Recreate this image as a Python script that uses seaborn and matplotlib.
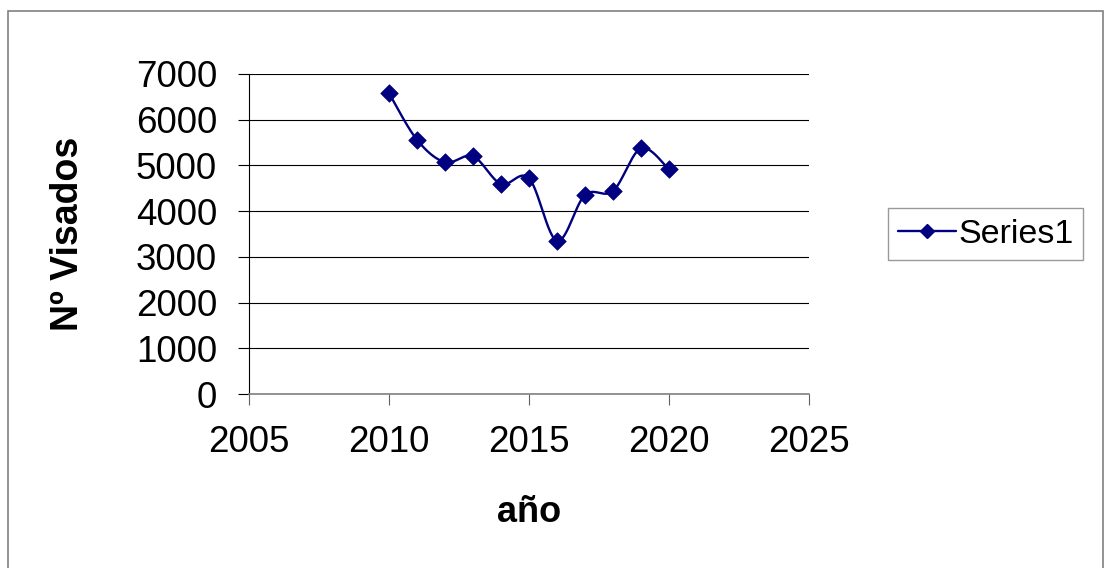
import numpy as np
import pandas as pd
import seaborn as sns
import matplotlib.pyplot as plt
from matplotlib.lines import Line2D
from matplotlib.patches import Rectangle

anios = [2010, 2011, 2012, 2013, 2014, 2015, 2016, 2017, 2018, 2019, 2020]
visados = [6580, 5560, 5070, 5200, 4595, 4720, 3350, 4355, 4440, 5375, 4915]
serie = 'Series1'

def suavizar(x, y, n=30):
    # curva suavizada tipo Excel (bezier con tangentes catmull-rom)
    x = np.asarray(x, float)
    y = np.asarray(y, float)
    xs, ys = [], []
    for i in range(len(x) - 1):
        p0 = (x[max(i - 1, 0)], y[max(i - 1, 0)])
        p1 = (x[i], y[i])
        p2 = (x[i + 1], y[i + 1])
        p3 = (x[min(i + 2, len(x) - 1)], y[min(i + 2, len(x) - 1)])
        c1 = (p1[0] + (p2[0] - p0[0]) / 6, p1[1] + (p2[1] - p0[1]) / 6)
        c2 = (p2[0] - (p3[0] - p1[0]) / 6, p2[1] - (p3[1] - p1[1]) / 6)
        t = np.linspace(0, 1, n)
        a = (1 - t) ** 3
        b = 3 * (1 - t) ** 2 * t
        c = 3 * (1 - t) * t ** 2
        d = t ** 3
        xs.extend(a * p1[0] + b * c1[0] + c * c2[0] + d * p2[0])
        ys.extend(a * p1[1] + b * c1[1] + c * c2[1] + d * p2[1])
    return xs, ys

sns.set_style('white')
plt.rcParams['font.family'] = ['Liberation Sans', 'DejaVu Sans']
plt.rcParams['text.color'] = 'black'
plt.rcParams['axes.labelcolor'] = 'black'
plt.rcParams['xtick.color'] = 'black'
plt.rcParams['ytick.color'] = 'black'

df = pd.DataFrame({'año': anios, 'Nº Visados': visados})
sx, sy = suavizar(anios, visados)
curva = pd.DataFrame({'x': sx, 'y': sy})

fig = plt.figure(figsize=(11.04, 5.68), dpi=100)
ax = fig.add_axes([249 / 1104, 1 - 394 / 568, 560 / 1104, 320 / 568])

azul = '#000080'
sns.lineplot(data=curva, x='x', y='y', sort=False, estimator=None,
             color=azul, linewidth=1.7, ax=ax)
sns.scatterplot(data=df, x='año', y='Nº Visados', marker='D', s=80,
                color=azul, edgecolor=azul, linewidth=0.5, zorder=3, ax=ax)

ax.set_xlim(2005, 2025)
ax.set_ylim(0, 7000)
ax.set_xticks([2005, 2010, 2015, 2020, 2025])
ax.set_yticks(range(0, 7001, 1000))
ax.yaxis.grid(True, color='black', linewidth=0.8)
ax.set_axisbelow(True)
for s in ['top', 'right']:
    ax.spines[s].set_visible(False)
ax.spines['left'].set_color('black')
ax.spines['bottom'].set_color('#808080')
ax.spines['left'].set_linewidth(0.8)
ax.spines['bottom'].set_linewidth(1.2)
ax.tick_params(axis='both', labelsize=26.5, direction='out', length=8,
               width=0.8, bottom=True, left=True, labelcolor='black')
ax.tick_params(axis='x', color='#606060', pad=14)
ax.tick_params(axis='y', color='black', pad=15)
ax.set_xlabel('año', fontsize=26, fontweight='bold')
ax.set_ylabel('Nº Visados', fontsize=27, fontweight='bold')
ax.xaxis.set_label_coords(0.5, (394 - 495) / 320)
ax.yaxis.set_label_coords((86 - 249) / 560, 0.5)

h = Line2D([], [], color=azul, linewidth=1.7, marker='D', markersize=7.5)
leg = fig.legend([h], [serie], loc='center', bbox_to_anchor=(0.893, 0.588),
                 fontsize=24.5, frameon=True, fancybox=False, edgecolor='#808080',
                 handlelength=1.7, handletextpad=0.05, borderpad=0.3)
leg.get_frame().set_linewidth(1.0)

fig.patches.append(Rectangle((8 / 1104, -0.01), 1095 / 1104, 1.01 - 11 / 568,
                             transform=fig.transFigure, fill=False,
                             edgecolor='#808080', linewidth=1.2))

fig.savefig('out.png', dpi=100)
